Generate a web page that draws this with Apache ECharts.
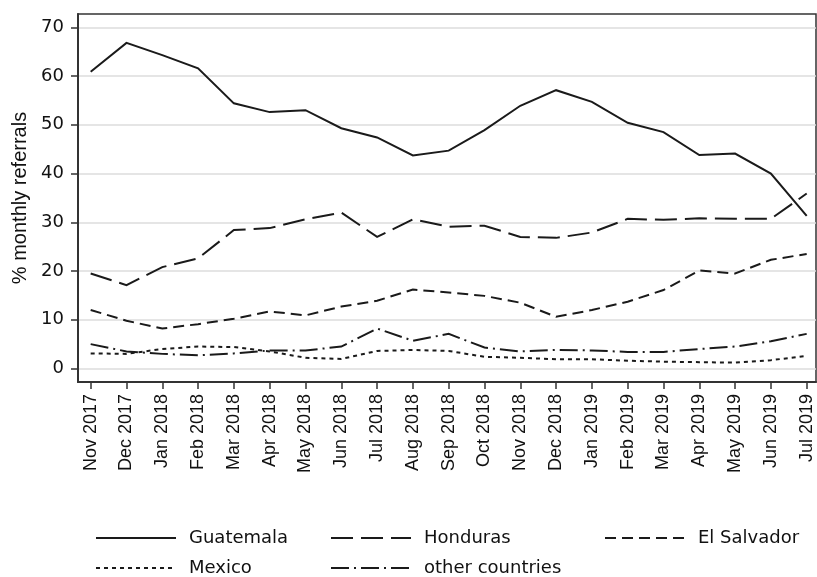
<!DOCTYPE html>
<html>
<head>
<meta charset="utf-8">
<script src="https://cdn.jsdelivr.net/npm/echarts@6/dist/echarts.min.js"></script>
<style>
  html, body { margin: 0; padding: 0; background: #fff; }
  #chart { width: 817px; height: 577px; }
</style>
</head>
<body>
<div id="chart"></div>
<script>
// Monthly referral shares by country of origin (percent)
const months = ['Nov 2017', 'Dec 2017', 'Jan 2018', 'Feb 2018', 'Mar 2018', 'Apr 2018', 'May 2018',
  'Jun 2018', 'Jul 2018', 'Aug 2018', 'Sep 2018', 'Oct 2018', 'Nov 2018', 'Dec 2018', 'Jan 2019',
  'Feb 2019', 'Mar 2019', 'Apr 2019', 'May 2019', 'Jun 2019', 'Jul 2019'];

const guatemala = [60.9, 66.8, 64.3, 61.6, 54.4, 52.6, 53.0, 49.3, 47.4, 43.7, 44.7, 48.9, 53.9,
  57.1, 54.7, 50.4, 48.5, 43.8, 44.1, 40.0, 31.3];
const honduras = [19.5, 17.1, 20.8, 22.6, 28.4, 28.8, 30.6, 32.0, 27.0, 30.6, 29.1, 29.3, 27.0,
  26.8, 27.9, 30.7, 30.5, 30.8, 30.7, 30.7, 35.9];
const elSalvador = [12.0, 9.8, 8.2, 9.1, 10.2, 11.7, 10.9, 12.7, 13.9, 16.2, 15.6, 14.9, 13.5,
  10.6, 12.0, 13.7, 16.1, 20.1, 19.5, 22.3, 23.5];
const mexico = [3.1, 3.0, 4.0, 4.5, 4.4, 3.5, 2.2, 1.95, 3.6, 3.8, 3.6, 2.4, 2.2,
  1.9, 1.9, 1.6, 1.4, 1.3, 1.2, 1.7, 2.6];
const otherCountries = [5.0, 3.5, 3.0, 2.7, 3.1, 3.7, 3.7, 4.5, 8.2, 5.7, 7.1, 4.3, 3.5,
  3.8, 3.7, 3.4, 3.4, 4.0, 4.5, 5.6, 7.1];

const yTicks = [0, 10, 20, 30, 40, 50, 60, 70];
const xTicks = months.map((_, i) => i);

const ink = '#1a1a1a';
const axisInk = '#333';

function toPoints(values) {
  return values.map((v, i) => [i, v]);
}

function makeSeries(name, values, dash) {
  return {
    name: name,
    type: 'line',
    data: toPoints(values),
    symbol: 'none',
    silent: true,
    animation: false,
    lineStyle: { color: ink, width: 2, type: dash, cap: 'butt', join: 'miter' },
    itemStyle: { color: ink }
  };
}

// Legend keys show only the line sample (no marker)
const legendText = { fontFamily: 'DejaVu Sans', fontSize: 18, color: '#111', padding: [0, 0, 0, 8] };
function makeLegend(name, left, top) {
  return {
    data: [name], left: left, top: top, padding: 0,
    itemWidth: 80, itemHeight: 16, selectedMode: false,
    itemStyle: { opacity: 0, borderWidth: 0 },
    textStyle: legendText
  };
}

const chart = echarts.init(document.getElementById('chart'), null, { renderer: 'canvas' });
chart.setOption({
  backgroundColor: '#fff',
  animation: false,
  grid: {
    left: 78, right: 1, top: 14, bottom: 195,
    show: true, borderColor: axisInk, borderWidth: 1.5, backgroundColor: '#fff'
  },
  xAxis: {
    type: 'value',
    min: -0.354, max: 20.26,
    axisLine: { show: true, onZero: false, lineStyle: { color: axisInk, width: 2 } },
    axisTick: { show: true, length: 7, customValues: xTicks, lineStyle: { color: axisInk, width: 1.5 } },
    axisLabel: {
      customValues: xTicks,
      rotate: 90, margin: 12,
      fontFamily: 'Liberation Sans', fontSize: 18, color: '#111',
      formatter: v => months[Math.round(v)]
    },
    splitLine: { show: false }
  },
  yAxis: {
    type: 'value',
    min: -2.77, max: 72.73,
    name: '% monthly referrals',
    nameLocation: 'middle',
    nameGap: 48,
    nameTextStyle: { fontFamily: 'Liberation Sans', fontSize: 20, color: '#111' },
    axisLine: { show: true, onZero: false, lineStyle: { color: axisInk, width: 2 } },
    axisTick: { show: true, length: 7, customValues: yTicks, lineStyle: { color: axisInk, width: 1.5 } },
    axisLabel: {
      customValues: yTicks, margin: 14,
      fontFamily: 'DejaVu Sans', fontSize: 18, color: '#111'
    },
    splitLine: { show: true, lineStyle: { color: '#dcdcdc', width: 1.5 } }
  },
  legend: [
    makeLegend('Guatemala', 95, 529),
    makeLegend('Honduras', 330, 529),
    makeLegend('El Salvador', 604, 529),
    makeLegend('Mexico', 95, 559),
    makeLegend('other countries', 330, 559)
  ],
  series: [
    makeSeries('Guatemala', guatemala, 'solid'),
    makeSeries('Honduras', honduras, [22, 8]),
    makeSeries('El Salvador', elSalvador, [11, 6]),
    makeSeries('Mexico', mexico, [4, 4]),
    makeSeries('other countries', otherCountries, [18, 5, 2, 5])
  ]
});
</script>
</body>
</html>
